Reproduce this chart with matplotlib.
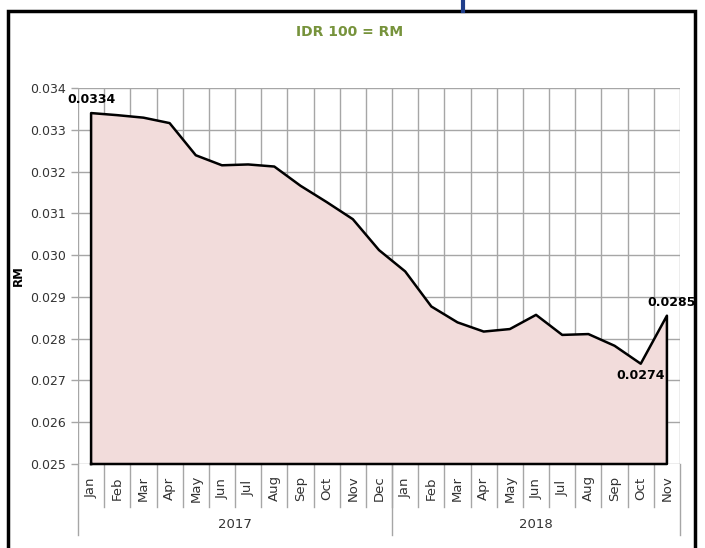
import numpy as np
import matplotlib.pyplot as plt
from matplotlib.patches import Rectangle
from matplotlib.lines import Line2D
import matplotlib.transforms as mtransforms

# Monthly rate, IDR 100 in RM (Jan 2017 - Nov 2018)
months = ["Jan", "Feb", "Mar", "Apr", "May", "Jun", "Jul", "Aug", "Sep", "Oct", "Nov", "Dec",
          "Jan", "Feb", "Mar", "Apr", "May", "Jun", "Jul", "Aug", "Sep", "Oct", "Nov"]
years = ["2017", "2018"]
months_per_year = [12, 11]
rate = [0.0334, 0.03335, 0.03329, 0.03316, 0.03239, 0.03215, 0.03217, 0.03212,
        0.03166, 0.03127, 0.03086, 0.03012, 0.02961, 0.02877, 0.02839, 0.02817,
        0.02823, 0.02857, 0.02809, 0.02811, 0.02783, 0.0274, 0.02855]

ymin, ymax = 0.025, 0.034
grid_col = "#a6a6a6"
txt_col = "#333333"

fig = plt.figure(figsize=(7.05, 5.48), dpi=100)
ax = fig.add_axes([78 / 705, 1 - 464 / 548, 602 / 705, 376 / 548])

x = np.arange(len(rate))
ax.fill_between(x, ymin, rate, color="#f2dcdb", zorder=2)
# outline of the area, closed along the bottom
ax.plot(np.r_[x[0], x, x[-1], x[0]], np.r_[ymin, rate, ymin, ymin], color="black", lw=1.8,
        zorder=3, clip_on=False)

ax.set_xlim(-0.5, len(rate) - 0.5)
ax.set_ylim(ymin, ymax)

# grid
yt = np.arange(0.025, 0.0341, 0.001)
ax.set_yticks(yt)
ax.set_yticklabels([f"{v:.3f}" for v in yt], fontsize=9, color=txt_col)
ax.tick_params(axis="y", length=5, color=grid_col, width=1)
ax.set_xticks([])
for v in yt:
    ax.axhline(v, color=grid_col, lw=1, zorder=1)
for b in np.arange(-0.5, len(rate), 1.0):
    ax.axvline(b, color=grid_col, lw=1, zorder=1)
for s in ax.spines.values():
    s.set_visible(False)

# two-level category axis
trans = mtransforms.blended_transform_factory(ax.transData, ax.transAxes)
for i, m in enumerate(months):
    ax.text(x[i], -0.064, m, transform=trans, rotation=90, ha="center", va="center",
            fontsize=9.5, color=txt_col)
for b in np.arange(0.5, len(rate) - 1, 1.0):
    ax.add_line(Line2D([b, b], [0, -0.114], transform=trans, color=grid_col, lw=1, clip_on=False))
start = -0.5
for yr, n in zip(years, months_per_year):
    ax.add_line(Line2D([start, start], [0, -0.189], transform=trans, color=grid_col, lw=1, clip_on=False))
    ax.text(start + n / 2, -0.162, yr, transform=trans, ha="center", va="center", fontsize=9.5, color=txt_col)
    start += n
ax.add_line(Line2D([start, start], [0, -0.189], transform=trans, color=grid_col, lw=1, clip_on=False))

# data labels
ax.annotate(f"{rate[0]:.4f}", (x[0], rate[0]), xytext=(0, 5), textcoords="offset points",
            ha="center", va="bottom", fontsize=9, fontweight="bold")
ax.annotate(f"{rate[21]:.4f}", (x[21], rate[21]), xytext=(0, -4), textcoords="offset points",
            ha="center", va="top", fontsize=9, fontweight="bold")
ax.annotate(f"{rate[22]:.4f}", (x[22], rate[22]), xytext=(3, 5), textcoords="offset points",
            ha="center", va="bottom", fontsize=9, fontweight="bold")

ax.set_ylabel("RM", fontsize=8.5, fontweight="bold", labelpad=4)
fig.text(350 / 705, 1 - 32 / 548, "IDR 100 = RM", ha="center", va="center",
         fontsize=10, fontweight="bold", color="#77933c")

# outer frame and the blue line above it
fig.patches.append(Rectangle((8 / 705, -0.05), 687 / 705, 1 - 11 / 548 + 0.05, transform=fig.transFigure,
                             fill=False, edgecolor="black", lw=2.5))
fig.add_artist(Line2D([463 / 705, 463 / 705], [1, 1 - 11 / 548], transform=fig.transFigure,
                      color="#1f3d8a", lw=3))

fig.savefig("out.png", dpi=100)
